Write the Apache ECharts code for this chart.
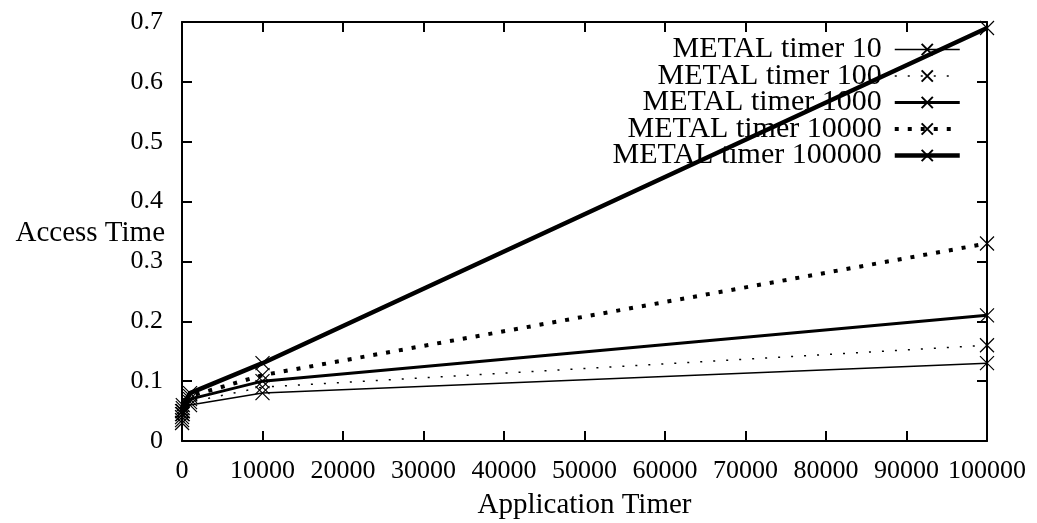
<!DOCTYPE html>
<html>
<head>
<meta charset="utf-8">
<script src="https://cdn.jsdelivr.net/npm/echarts@6/dist/echarts.min.js"></script>
<style>
html, body { margin: 0; padding: 0; background: #fff; }
#chart { width: 1037px; height: 523px; }
</style>
</head>
<body>
<div id="chart"></div>
<script>
// application timer values (x)
var timerList = [10, 100, 1000, 10000, 100000];
var seriesNames = ['METAL timer 10', 'METAL timer 100', 'METAL timer 1000', 'METAL timer 10000', 'METAL timer 100000'];
var timer10Data = [0.03, 0.045, 0.06, 0.08, 0.13];
var timer100Data = [0.035, 0.05, 0.065, 0.09, 0.16];
var timer1000Data = [0.04, 0.05, 0.07, 0.10, 0.21];
var timer10000Data = [0.045, 0.055, 0.075, 0.11, 0.33];
var timer100000Data = [0.05, 0.06, 0.08, 0.13, 0.69];

var FONT = '"Liberation Serif", "DejaVu Serif", serif';
var crossSymbol = 'path://M0,0L10,10M10,0L0,10';

// line width / dash per series
var widthList = [1.5, 1.5, 3, 4, 4.5];
var dashList = ['solid', [2, 11], 'solid', [4, 9], 'solid'];

function pairs(vals) {
	var out = [];
	for (var i = 0; i < timerList.length; i++) {
		out.push([timerList[i], vals[i]]);
	}
	return out;
}

function makeSeries(idx, vals) {
	return {
		name: seriesNames[idx],
		type: 'line',
		data: pairs(vals),
		symbol: crossSymbol,
		symbolSize: 14,
		showAllSymbol: true,
		itemStyle: {
			color: 'none',
			borderColor: '#000',
			borderWidth: 1.2
		},
		lineStyle: {
			color: '#000',
			width: widthList[idx],
			type: dashList[idx]
		},
		emphasis: { disabled: true },
		animation: false
	};
}

var legendData = [];
for (var i = 0; i < seriesNames.length; i++) {
	legendData.push({
		name: seriesNames[i],
		lineStyle: { width: widthList[i], type: dashList[i], color: '#000' }
	});
}

var chart = echarts.init(document.getElementById('chart'));

function axisBase(extra) {
	return Object.assign({
		axisLine: { onZero: false, lineStyle: { color: '#000', width: 2 } },
		axisTick: { inside: true, length: 10, lineStyle: { color: '#000', width: 2 } },
		splitLine: { show: false }
	}, extra);
}

var labelStyle = { fontFamily: FONT, fontSize: 26, color: '#000' };

chart.setOption({
	backgroundColor: '#fff',
	grid: { left: 182, right: 50, top: 22, bottom: 82, containLabel: false, outerBoundsMode: 'none' },
	legend: {
		orient: 'vertical',
		right: 70,
		top: 29.5,
		align: 'right',
		itemWidth: 65,
		itemHeight: 14,
		itemGap: -3.5,
		data: legendData,
		textStyle: { fontFamily: FONT, fontSize: 30, color: '#000', padding: [0, 8, 0, 0] },
		selectedMode: false
	},
	xAxis: [
		axisBase({
			type: 'value',
			min: 0,
			max: 100000,
			interval: 10000,
			name: 'Application Timer',
			nameLocation: 'middle',
			nameGap: 50,
			nameTextStyle: { fontFamily: FONT, fontSize: 29, color: '#000' },
			axisLabel: Object.assign({ margin: 17, formatter: function (v) { return String(v); } }, labelStyle)
		}),
		axisBase({
			type: 'value',
			position: 'top',
			min: 0,
			max: 100000,
			interval: 10000,
			axisLabel: { show: false }
		})
	],
	yAxis: [
		axisBase({
			type: 'value',
			min: 0,
			max: 0.7,
			interval: 0.1,
			axisLabel: Object.assign({
				margin: 19,
				formatter: function (v) { return v === 0 ? '0' : v.toFixed(1); }
			}, labelStyle)
		}),
		axisBase({
			type: 'value',
			position: 'right',
			min: 0,
			max: 0.7,
			interval: 0.1,
			axisLabel: { show: false }
		})
	],
	graphic: [{
		type: 'text',
		x: 165,
		y: 233,
		style: {
			text: 'Access Time', font: '29px ' + FONT, fill: '#000',
			textAlign: 'right', textVerticalAlign: 'middle'
		}
	}],
	series: [
		makeSeries(0, timer10Data),
		makeSeries(1, timer100Data),
		makeSeries(2, timer1000Data),
		makeSeries(3, timer10000Data),
		makeSeries(4, timer100000Data)
	]
});
</script>
</body>
</html>
